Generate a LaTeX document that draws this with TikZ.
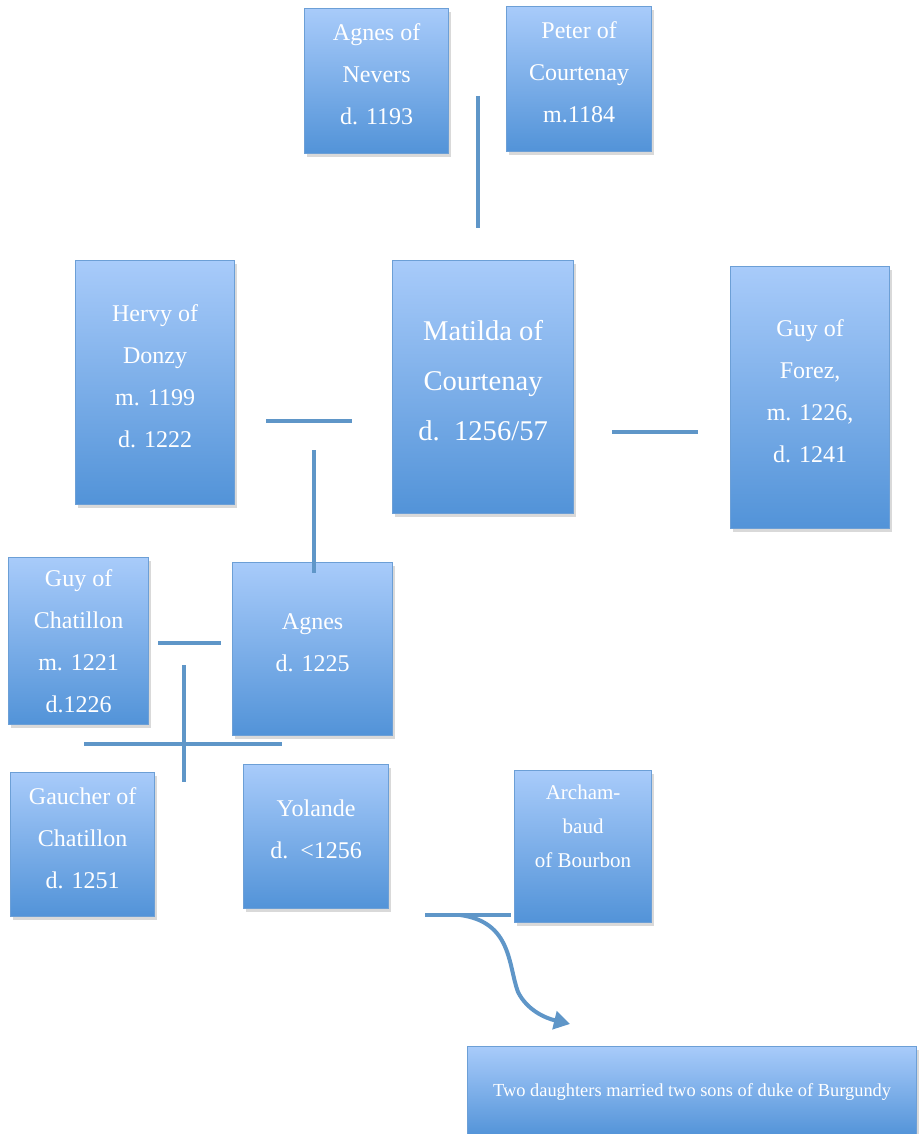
\documentclass[tikz,border=0pt]{standalone}
\usepackage{fontspec}
\setmainfont{Liberation Serif}
\usepackage{tikz}
\usetikzlibrary{arrows.meta, shadows}

\definecolor{boxtop}{HTML}{A8CBFA}
\definecolor{boxbot}{HTML}{5293D8}
\definecolor{boxline}{HTML}{6C9FD6}
\definecolor{linkcol}{HTML}{5F96C8}

% empty last line, pulls the text a little upwards
\newcommand{\tailgap}[1][-14pt]{\\[#1]\mbox{}}

\begin{document}
\begin{tikzpicture}[
    x=0.5pt, y=-0.5pt,
    >=Stealth,
    person/.style={draw=boxline, line width=0.6pt, top color=boxtop, bottom color=boxbot,
        anchor=north west, inner sep=0pt, align=center, text=white,
        font=\fontsize{12}{21}\selectfont,
        drop shadow={opacity=0.3, shadow xshift=1pt, shadow yshift=-1.5pt}},
    big/.style={person, font=\fontsize{14.3}{25}\selectfont},
    small/.style={person, font=\fontsize{10.5}{17}\selectfont},
    note/.style={person, font=\fontsize{9.2}{12}\selectfont},
    link/.style={draw=linkcol, line width=2pt},
]
\useasboundingbox (0,0) rectangle (921,1134);

\node[person, minimum width=72pt, minimum height=72.5pt] (nevers) at (304,8) {Agnes of\\Nevers\\d. 1193\tailgap};
\node[person, minimum width=72.5pt, minimum height=72.5pt] (peter) at (506,6) {Peter of\\Courtenay\\m.1184\tailgap};
\node[person, minimum width=79.5pt, minimum height=122pt] (hervy) at (75,260) {Hervy of\\Donzy\\m. 1199\\d. 1222\tailgap};
\node[big, minimum width=90.5pt, minimum height=126.5pt] (matilda) at (392,260) {Matilda of\\Courtenay\\d.~~1256/57\tailgap[-18pt]};
\node[person, minimum width=79.5pt, minimum height=131pt] (forez) at (730,266) {Guy of\\Forez,\\m. 1226,\\d. 1241\tailgap};
\node[person, minimum width=70pt, minimum height=83.5pt] (chatillon) at (8,557) {Guy of\\Chatillon\\m. 1221\\d.1226};
\node[person, minimum width=80pt, minimum height=86.5pt] (agnes) at (232,562) {Agnes\\d. 1225\tailgap};
\node[person, minimum width=72pt, minimum height=72pt] (gaucher) at (10,772) {Gaucher of\\Chatillon\\d. 1251\tailgap};
\node[person, minimum width=72.5pt, minimum height=72pt] (yolande) at (243,764) {Yolande\\d.~~<1256\tailgap};
\node[small, minimum width=68.5pt, minimum height=76pt] (bourbon) at (514,770) {Archam-\\baud\\of Bourbon\tailgap[3pt]};
\node[note, minimum width=224.5pt, minimum height=45pt] (burgundy) at (467,1046) {Two daughters married two sons of duke of Burgundy};

% marriage and descent lines
\coordinate (np top) at (478,96);
\coordinate (np bot) at (478,228);
\coordinate (hm left) at (266,421);
\coordinate (hm right) at (352,421);
\coordinate (hm down) at (314,450);
\coordinate (hm kid) at (314,573);
\coordinate (mf left) at (612,432);
\coordinate (mf right) at (698,432);
\coordinate (ca left) at (158,643);
\coordinate (ca right) at (221,643);
\coordinate (ca down) at (184,665);
\coordinate (ca kid) at (184,782);
\coordinate (kids left) at (84,744);
\coordinate (kids right) at (282,744);
\coordinate (yb left) at (425,915);
\coordinate (yb right) at (511,915);
\coordinate (yb mid) at (460,915);
\coordinate (yb end) at (570,1024);

\draw[link] (np top) -- (np bot);
\draw[link] (hm left) -- (hm right);
\draw[link] (hm down) -- (hm kid);
\draw[link] (mf left) -- (mf right);
\draw[link] (ca left) -- (ca right);
\draw[link] (ca down) -- (ca kid);
\draw[link] (kids left) -- (kids right);
\draw[link] (yb left) -- (yb right);
\draw[link, -{Triangle[width=9pt, length=8pt]}] (yb mid) .. controls (512,922) and (508,965) .. (518,992) .. controls (527,1010) and (545,1018) .. (yb end);
\end{tikzpicture}
\end{document}
